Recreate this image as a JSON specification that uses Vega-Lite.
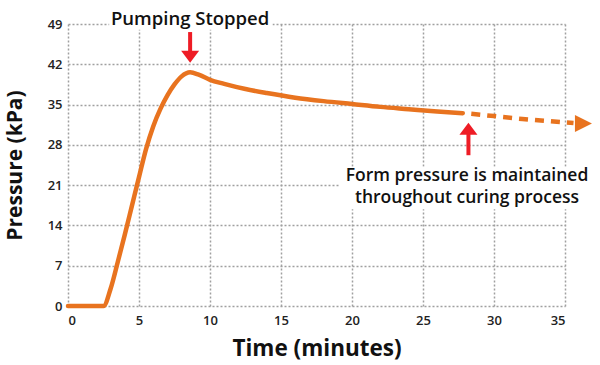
{
  "$schema": "https://vega.github.io/schema/vega-lite/v6.json",
  "width": 497,
  "height": 282,
  "autosize": {"type": "none"},
  "padding": {"left": 68, "top": 24, "right": 35, "bottom": 59},
  "background": "white",
  "config": {
    "view": {"stroke": null},
    "font": "Open Sans",
    "axis": {
      "grid": true,
      "gridColor": "#a0a0a0",
      "gridDash": [2, 2],
      "gridWidth": 1.5,
      "domain": false,
      "ticks": false,
      "labelFont": "Open Sans",
      "labelFontSize": 13,
      "labelFontWeight": 600,
      "labelColor": "#222222",
      "titleFont": "Open Sans",
      "titleFontWeight": "bold",
      "titleColor": "#111111"
    }
  },
  "datasets": {
    "solid": [
      {"t": 0, "p": 0}, {"t": 2.5, "p": 0}, {"t": 3, "p": 3}, {"t": 3.5, "p": 7.6},
      {"t": 4, "p": 12.4}, {"t": 4.5, "p": 17.4}, {"t": 5, "p": 22.4}, {"t": 5.5, "p": 27.3},
      {"t": 6, "p": 31.2}, {"t": 6.5, "p": 34.2}, {"t": 7, "p": 36.6}, {"t": 7.5, "p": 38.5},
      {"t": 8, "p": 39.9}, {"t": 8.6, "p": 40.6}, {"t": 9.2, "p": 40.2}, {"t": 10, "p": 39.3},
      {"t": 11, "p": 38.6}, {"t": 12.5, "p": 37.7}, {"t": 14, "p": 37.0}, {"t": 16, "p": 36.2},
      {"t": 18, "p": 35.6}, {"t": 20, "p": 35.1}, {"t": 22, "p": 34.6}, {"t": 24, "p": 34.2},
      {"t": 26, "p": 33.8}, {"t": 27.8, "p": 33.5}
    ],
    "dashed": [
      {"t": 28.4, "p": 33.4}, {"t": 30, "p": 33.0}, {"t": 32, "p": 32.5},
      {"t": 34, "p": 32.1}, {"t": 35.6, "p": 31.8}
    ],
    "head": [{"t": 36.3, "p": 31.7}],
    "redShafts": [
      {"t": 8.6, "p1": 47.6, "p2": 44.0},
      {"t": 28.2, "p1": 30.5, "p2": 26.2}
    ],
    "redDown": [{"t": 8.6, "p": 43.3}],
    "redUp": [{"t": 28.2, "p": 30.8}],
    "boxes": [
      {"x1": 2.9, "x2": 14.4, "y1": 48.0, "y2": 52.0},
      {"x1": 19.15, "x2": 38, "y1": 16.8, "y2": 24.2}
    ],
    "labels": [
      {"t": 8.6, "p": 48.8, "txt": ["Pumping Stopped"], "size": 18.5},
      {"t": 28.1, "p": 21.7, "txt": ["Form pressure is maintained", "throughout curing process"], "size": 17.5}
    ]
  },
  "layer": [
    {
      "data": {"name": "boxes"},
      "mark": {"type": "rect", "fill": "white", "clip": false},
      "encoding": {
        "x": {"field": "x1", "type": "quantitative", "scale": {"domain": [0, 35], "nice": false}, "axis": {"values": [0,5,10,15,20,25,30,35], "title": "Time (minutes)", "titleFontSize": 22.5, "labelPadding": 8, "titlePadding": 10}},
        "x2": {"field": "x2"},
        "y": {"field": "y1", "type": "quantitative", "scale": {"domain": [0, 49], "nice": false}, "axis": {"values": [0,7,14,21,28,35,42,49], "title": "Pressure (kPa)", "titleFontSize": 21, "labelPadding": 6, "titlePadding": 22}},
        "y2": {"field": "y2"}
      }
    },
    {
      "data": {"name": "solid"},
      "mark": {"type": "line", "color": "#E8731F", "strokeWidth": 4.5, "interpolate": "monotone", "strokeCap": "round"},
      "encoding": {
        "x": {"field": "t", "type": "quantitative"},
        "y": {"field": "p", "type": "quantitative"}
      }
    },
    {
      "data": {"name": "dashed"},
      "mark": {"type": "line", "color": "#E8731F", "strokeWidth": 4.5, "strokeDash": [9, 7], "interpolate": "monotone", "clip": false},
      "encoding": {
        "x": {"field": "t", "type": "quantitative"},
        "y": {"field": "p", "type": "quantitative"}
      }
    },
    {
      "data": {"name": "head"},
      "mark": {"type": "point", "shape": "M-1,-1L1,0L-1,1Z", "filled": true, "color": "#E8731F", "opacity": 1, "size": 289, "clip": false},
      "encoding": {
        "x": {"field": "t", "type": "quantitative"},
        "y": {"field": "p", "type": "quantitative"}
      }
    },
    {
      "data": {"name": "redShafts"},
      "mark": {"type": "rule", "color": "#EE1C25", "strokeWidth": 4, "clip": false},
      "encoding": {
        "x": {"field": "t", "type": "quantitative"},
        "y": {"field": "p1", "type": "quantitative"},
        "y2": {"field": "p2"}
      }
    },
    {
      "data": {"name": "redDown"},
      "mark": {"type": "point", "shape": "M-1,-0.667L1,-0.667L0,0.667Z", "filled": true, "color": "#EE1C25", "opacity": 1, "size": 324, "clip": false},
      "encoding": {
        "x": {"field": "t", "type": "quantitative"},
        "y": {"field": "p", "type": "quantitative"}
      }
    },
    {
      "data": {"name": "redUp"},
      "mark": {"type": "point", "shape": "M-1,0.667L1,0.667L0,-0.667Z", "filled": true, "color": "#EE1C25", "opacity": 1, "size": 324, "clip": false},
      "encoding": {
        "x": {"field": "t", "type": "quantitative"},
        "y": {"field": "p", "type": "quantitative"}
      }
    },
    {
      "data": {"name": "labels"},
      "mark": {"type": "text", "font": "Open Sans", "fontWeight": 600, "color": "#111111", "align": "center", "baseline": "alphabetic", "lineHeight": 22, "clip": false},
      "encoding": {
        "x": {"field": "t", "type": "quantitative"},
        "y": {"field": "p", "type": "quantitative"},
        "text": {"field": "txt"},
        "size": {"field": "size", "type": "quantitative", "scale": null}
      }
    }
  ]
}
